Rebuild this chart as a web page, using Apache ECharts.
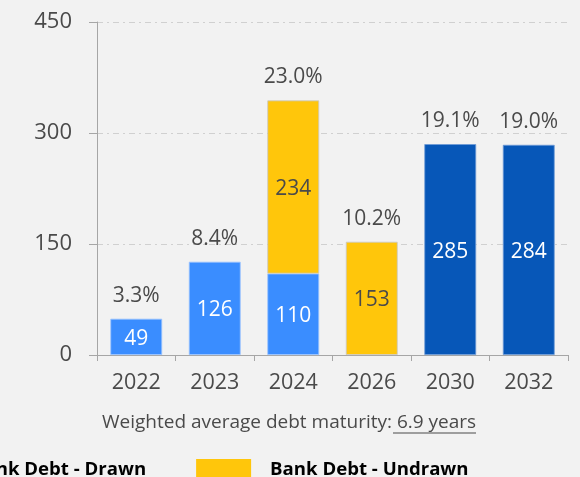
<!DOCTYPE html>
<html><head><meta charset="utf-8">
<script src="https://cdn.jsdelivr.net/npm/echarts@6/dist/echarts.min.js"></script>
<style>html,body{margin:0;padding:0;background:#F2F2F2;}#c{width:580px;height:477px;}</style>
</head><body><div id="c"></div>
<script>
const categories = ['2022','2023','2024','2026','2030','2032'];
const drawn = [49,126,110,null,null,null];
const undrawn = [null,null,234,153,null,null];
const notes = [null,null,null,null,285,284];
const totals = [49,126,344,153,285,284];
const percents = ['3.3%','8.4%','23.0%','10.2%','19.1%','19.0%'];
const yTicks = [0,150,300,450];

const font = '"Open Sans", "Noto Sans", sans-serif';
const txt = '#4a4a4a';
const chart = echarts.init(document.getElementById('c'));
const innerLabel = (color) => ({show:true, position:'inside', offset:[0,2], color:color, fontSize:21, fontFamily:font});
chart.setOption({
  backgroundColor:'#F2F2F2',
  animation:false,
  grid:{left:97,right:12,top:22,bottom:122},
  legend:{
    data:['Bank Debt - Drawn','Bank Debt - Undrawn'],
    left:-107, top:454, orient:'horizontal',
    itemWidth:55, itemHeight:22, itemGap:50,
    icon:'rect',
    itemStyle:{borderWidth:0},
    textStyle:{fontSize:18.6, fontWeight:'bold', color:'#000', fontFamily:font, padding:[0,0,0,14]}
  },
  xAxis:{
    type:'category', data:categories,
    axisLine:{lineStyle:{color:'#A6A6A6'}},
    axisTick:{show:true, length:6, lineStyle:{color:'#A6A6A6'}},
    axisLabel:{fontSize:21.5, color:txt, margin:17, fontFamily:font}
  },
  yAxis:{
    type:'value', min:0, max:450, interval:150,
    axisLine:{show:true, lineStyle:{color:'#A6A6A6'}},
    axisTick:{show:true, length:8, lineStyle:{color:'#A6A6A6'}},
    axisLabel:{fontSize:22, color:txt, margin:25, fontFamily:font,
      formatter:(v)=> yTicks.includes(v) ? String(v) : ''},
    splitLine:{show:true, lineStyle:{color:'#D0D0D0', type:[6,4,2,4]}}
  },
  series:[
    {name:'Bank Debt - Drawn', type:'bar', stack:'a', data:drawn, barWidth:'66%',
      itemStyle:{color:'#3A8DFF', borderColor:'#9CC4FF', borderWidth:0.8},
      label:innerLabel('#FFFFFF')},
    {name:'Bank Debt - Undrawn', type:'bar', stack:'a', data:undrawn,
      itemStyle:{color:'#FFC60B', borderColor:'#C8C8C8', borderWidth:0.8},
      label:innerLabel(txt)},
    {name:'Senior Notes', type:'bar', stack:'a', data:notes,
      itemStyle:{color:'#0757B8', borderColor:'#6D9AD6', borderWidth:0.8},
      label:innerLabel('#FFFFFF')},
    {name:'pct', type:'line', data:totals, symbol:'circle', symbolSize:1, silent:true,
      showSymbol:true,
      itemStyle:{color:'rgba(0,0,0,0)'},
      lineStyle:{width:0, color:'rgba(0,0,0,0)'},
      label:{show:true, position:'top', distance:12, fontSize:21, color:txt, fontFamily:font,
        formatter:(p)=>percents[p.dataIndex]}}
  ],
  graphic:[
    {type:'text', left:102, top:413, style:{
      text:'Weighted average debt maturity: 6.9 years',
      fontSize:19, fill:txt, fontFamily:font
    }},
    {type:'line', shape:{x1:393,y1:433,x2:476,y2:433}, style:{stroke:txt, lineWidth:1}}
  ]
});
</script></body></html>
